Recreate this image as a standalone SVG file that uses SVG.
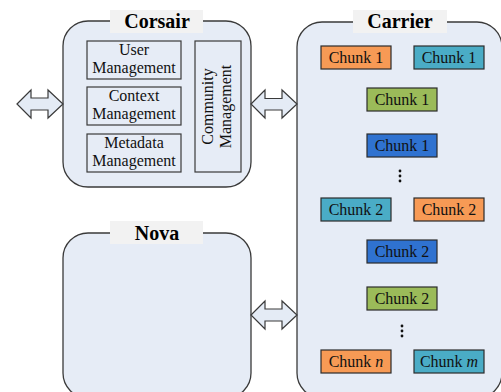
<svg xmlns="http://www.w3.org/2000/svg" width="501" height="392" viewBox="0 0 501 392" font-family="'Liberation Serif','Times New Roman',serif">
<style>
.panel{fill:#e6ecf6;stroke:#3a3a3a;stroke-width:1.3}
.lbl{fill:#f2f2f2}
.title{font-family:'Liberation Serif','Times New Roman',serif;font-weight:bold;font-size:20px;fill:#000;text-anchor:middle}
.mod{fill:#e6ecf6;stroke:#3a3a3a;stroke-width:1.2}
.t{font-family:'Liberation Serif','Times New Roman',serif;font-size:16px;fill:#111;text-anchor:middle}
.chunk{stroke:#2b2b2b;stroke-width:1.2}
.or{fill:#f79a55}.cy{fill:#4aacc6}.gr{fill:#9bbb59}.bl{fill:#2f72d0}
.arrow{fill:#e4ebf5;stroke:#3a3a3a;stroke-width:1.2;stroke-linejoin:miter}
.dot{fill:#111}
</style>
<rect width="501" height="392" fill="#fff"/>

<g id="corsair">
<rect class="panel" x="63" y="21" width="188" height="166" rx="25"/>
<rect class="lbl" x="110" y="10" width="93" height="23"/>
<text class="title" x="157" y="28">Corsair</text>
<g id="user-mgmt">
<rect class="mod" x="87" y="41" width="94" height="38"/>
<text class="t" x="134" y="55">User</text>
<text class="t" x="134" y="73">Management</text>
</g>
<g id="context-mgmt">
<rect class="mod" x="87" y="87" width="94" height="38"/>
<text class="t" x="134" y="101">Context</text>
<text class="t" x="134" y="119">Management</text>
</g>
<g id="metadata-mgmt">
<rect class="mod" x="87" y="134" width="94" height="38"/>
<text class="t" x="134" y="148">Metadata</text>
<text class="t" x="134" y="166">Management</text>
</g>
<g id="community-mgmt">
<rect class="mod" x="195" y="41" width="46" height="131"/>
<text class="t" transform="translate(213,106.5) rotate(-90)" x="0" y="0">Community</text>
<text class="t" transform="translate(231,106.5) rotate(-90)" x="0" y="0">Management</text>
</g>
</g>

<g id="nova">
<rect class="panel" x="63" y="233" width="188" height="165" rx="25"/>
<rect class="lbl" x="110" y="221" width="93" height="23"/>
<text class="title" x="157" y="240">Nova</text>
</g>

<g id="carrier">
<rect class="panel" x="297" y="22" width="205" height="376" rx="25"/>
<rect class="lbl" x="353" y="10" width="94" height="23"/>
<text class="title" x="400" y="28">Carrier</text>
<g id="c1a"><rect class="chunk or" x="321" y="46" width="70" height="23"/><text class="t" x="356" y="63">Chunk 1</text></g>
<g id="c1b"><rect class="chunk cy" x="414" y="46" width="70" height="23"/><text class="t" x="449" y="63">Chunk 1</text></g>
<g id="c1c"><rect class="chunk gr" x="367" y="88" width="70" height="23"/><text class="t" x="402" y="105">Chunk 1</text></g>
<g id="c1d"><rect class="chunk bl" x="367" y="134" width="70" height="23"/><text class="t" x="402" y="151">Chunk 1</text></g>
<circle class="dot" cx="400" cy="171" r="1.4"/><circle class="dot" cx="400" cy="176" r="1.4"/><circle class="dot" cx="400" cy="181" r="1.4"/>
<g id="c2a"><rect class="chunk cy" x="321" y="198" width="70" height="23"/><text class="t" x="356" y="215">Chunk 2</text></g>
<g id="c2b"><rect class="chunk or" x="414" y="198" width="70" height="23"/><text class="t" x="449" y="215">Chunk 2</text></g>
<g id="c2c"><rect class="chunk bl" x="367" y="240" width="70" height="23"/><text class="t" x="402" y="257">Chunk 2</text></g>
<g id="c2d"><rect class="chunk gr" x="367" y="287" width="70" height="23"/><text class="t" x="402" y="304">Chunk 2</text></g>
<circle class="dot" cx="402" cy="326" r="1.4"/><circle class="dot" cx="402" cy="331" r="1.4"/><circle class="dot" cx="402" cy="336" r="1.4"/>
<g id="cn"><rect class="chunk or" x="321" y="350" width="70" height="23"/><text class="t" x="356" y="367">Chunk <tspan font-style="italic">n</tspan></text></g>
<g id="cm"><rect class="chunk cy" x="414" y="350" width="70" height="23"/><text class="t" x="449" y="367">Chunk <tspan font-style="italic">m</tspan></text></g>
</g>

<g id="connectors">
<polygon class="arrow" points="17,104 31,90 31,98 48,98 48,90 63,104 48,118 48,110 31,110 31,118"/>
<polygon class="arrow" points="251,104 265,90 265,98.5 282,98.5 282,90 297,104 282,118 282,110 265,110 265,118"/>
<polygon class="arrow" points="251,315 265,301 265,309 282,309 282,301 297,315 282,329 282,321 265,321 265,329"/>
</g>
</svg>
